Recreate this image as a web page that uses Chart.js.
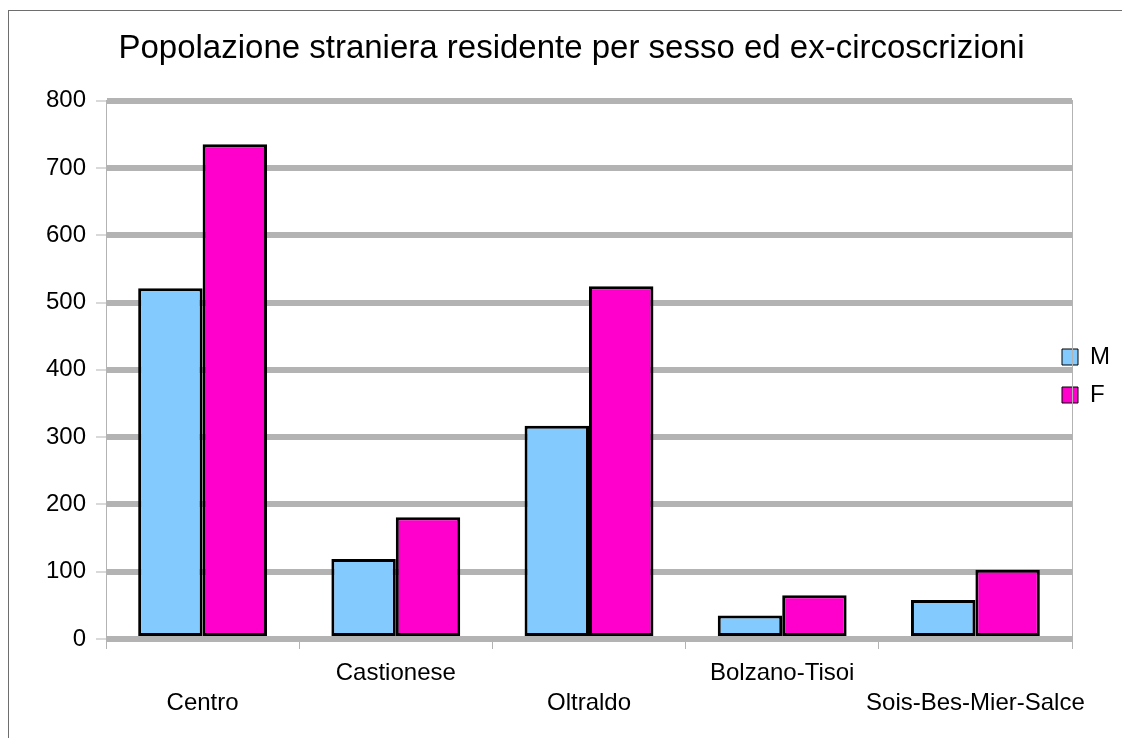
<!DOCTYPE html>
<html>
<head>
<meta charset="utf-8">
<script src="https://cdn.jsdelivr.net/npm/chart.js@4"></script>
<style>
  html, body { margin: 0; padding: 0; background: #fff; overflow: hidden; }
  #cornice { position: absolute; left: 8px; top: 10px; width: 1200px; height: 800px; border: 1px solid #6e6e6e; }
  #wrap { position: absolute; left: 0; top: 0; width: 1122px; height: 738px; }
</style>
</head>
<body>
<div id="cornice"></div>
<div id="wrap"><canvas id="grafica" width="1122" height="738"></canvas></div>
<script>
// dati
const circoscrizioni = ["Centro", "Castionese", "Oltraldo", "Bolzano-Tisoi", "Sois-Bes-Mier-Salce"];
const maschi = [521, 119, 317, 35, 58];
const femmine = [735, 181, 524, 65, 103];
const tickY = [0, 100, 200, 300, 400, 500, 600, 700, 800];

const grigio = "#b3b3b3";
const font = "'Liberation Sans', Arial, sans-serif";

// sposta un po' la legenda verso il grafico, come nell'originale
const spostaLegenda = {
  id: "spostaLegenda",
  afterLayout(chart) {
    const l = chart.legend;
    l.left -= 24;
    l.width += 24;
    l.top += 7; l.bottom += 7;
  },
};

let ctx = document.getElementById("grafica").getContext("2d");
let grafica = new Chart(ctx, {
  type: "bar",
  data: {
    labels: circoscrizioni,
    datasets: [
      {
        label: "M",
        data: maschi,
        backgroundColor: "#83caff",
        borderColor: "#000",
        borderWidth: 3,
        borderSkipped: false,
      },
      {
        label: "F",
        data: femmine,
        backgroundColor: "#ff00cc",
        borderColor: "#000",
        borderWidth: 3,
        borderSkipped: false,
      },
    ],
  },
  options: {
    responsive: false,
    maintainAspectRatio: false,
    animation: false,
    layout: { padding: { left: 21, right: 0, top: 0, bottom: 0 } },
    datasets: { bar: { categoryPercentage: 0.667, barPercentage: 1 } },
    plugins: {
      title: {
        display: true,
        text: "Popolazione straniera residente per sesso ed ex-circoscrizioni",
        color: "#000",
        font: { family: font, size: 33, weight: "normal" },
        padding: { top: 29, bottom: 32 },
      },
      legend: {
        position: "right",
        align: "center",
        maxWidth: 50,
        labels: {
          color: "#000",
          font: { family: font, size: 24 },
          boxWidth: 16,
          boxHeight: 16,
          padding: 14,
          generateLabels: (chart) =>
            Chart.defaults.plugins.legend.labels.generateLabels(chart).map((it) => ({ ...it, lineWidth: 1 })),
        },
      },
      tooltip: { enabled: false },
    },
    scales: {
      x: {
        grid: {
          display: true,
          drawOnChartArea: false,
          color: grigio,
          tickLength: 10,
          lineWidth: 1,
        },
        border: { display: false },
        ticks: {
          color: "#000",
          font: { family: font, size: 24, lineHeight: 1.25 },
          padding: 9,
          autoSkip: false,
          maxRotation: 0,
          minRotation: 0,
          callback: function (value, index) {
            const nome = circoscrizioni[index];
            return index % 2 === 0 ? ["", nome] : [nome];
          },
        },
        afterFit: (scale) => { scale.height = 99; },
      },
      y: {
        min: 0,
        max: 800,
        afterBuildTicks: (scale) => { scale.ticks = tickY.map((v) => ({ value: v })); },
        grid: {
          color: grigio,
          lineWidth: 6,
          tickWidth: 1,
          tickColor: grigio,
          tickLength: 10,
        },
        border: { display: true, color: grigio, width: 1 },
        ticks: {
          color: "#000",
          font: { family: font, size: 24 },
          padding: 10,
        },
        afterFit: (scale) => { scale.width = 85; },
      },
      destra: {
        position: "right",
        min: 0,
        max: 800,
        grid: { display: false },
        ticks: { display: false },
        border: { display: true, color: grigio, width: 1 },
        afterFit: (scale) => { scale.width = 0; },
      },
    },
  },
  plugins: [spostaLegenda],
});
</script>
</body>
</html>
